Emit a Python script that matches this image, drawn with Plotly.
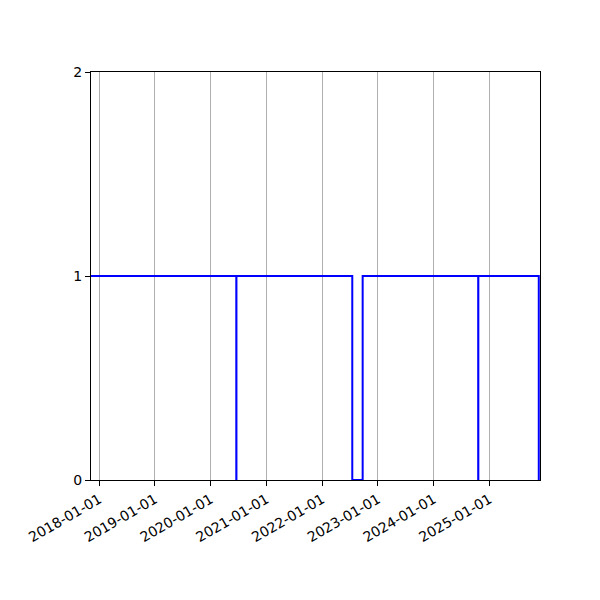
import plotly.graph_objects as go

dates = ["2017-11-08", "2020-06-17", "2020-06-18", "2022-07-17",
         "2022-09-23", "2024-10-19", "2024-10-20", "2025-11-20"]
values = [1, 0, 1, 0, 1, 0, 1, 0]
x_range = ["2017-11-08", "2025-11-28"]
y_ticks = [0, 1, 2]

fig = go.Figure()
fig.add_trace(go.Scatter(
    x=dates, y=values, mode="lines",
    line=dict(shape="hv", color="#0000ff", width=2),
    showlegend=False,
))

fig.update_layout(
    width=600, height=600,
    margin=dict(l=83, r=68, t=64, b=128),
    paper_bgcolor="white", plot_bgcolor="white",
    font=dict(family="DejaVu Sans", size=14, color="black"),
)
fig.update_xaxes(
    type="date", range=x_range,
    tick0="2018-01-01", dtick="M12", tickformat="%Y-%m-%d",
    tickangle=-30, ticks="outside", ticklen=5, tickcolor="black",
    showgrid=True, gridcolor="#b0b0b0", gridwidth=1,
    showline=True, linecolor="black", linewidth=1, mirror=True,
    zeroline=False,
)
fig.update_yaxes(
    range=[0, 2], tickvals=y_ticks,
    ticks="outside", ticklen=5, tickcolor="black",
    showgrid=False, zeroline=False,
    showline=True, linecolor="black", linewidth=1, mirror=True,
)

fig.write_html("out.html")
